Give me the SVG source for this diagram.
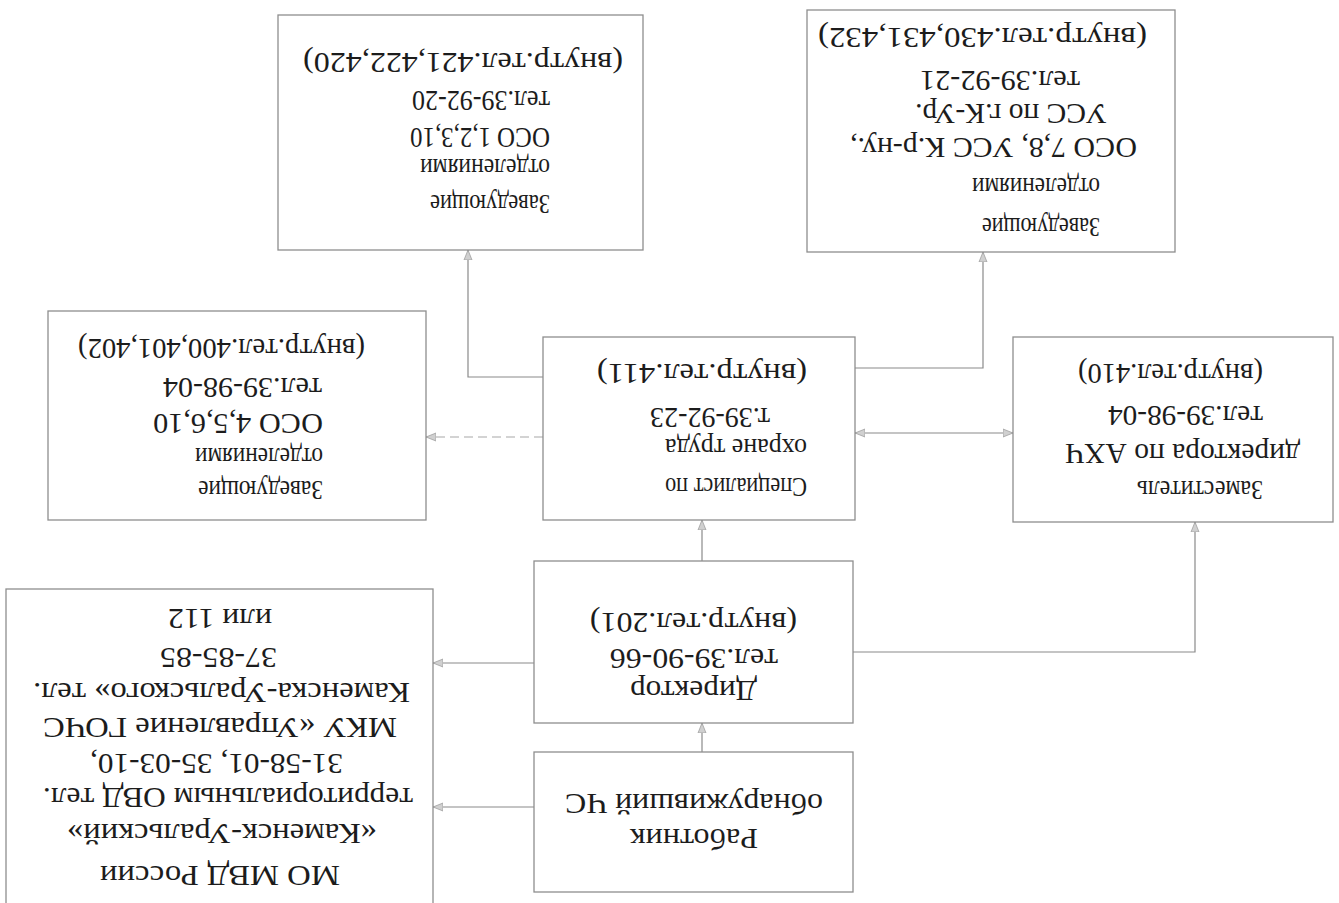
<svg xmlns="http://www.w3.org/2000/svg" width="1339" height="903" viewBox="0 0 1339 903">
<style>
.box{fill:#ffffff;stroke:#8e8e8e;stroke-width:1.3}
.t{font-family:"Liberation Serif","Times New Roman",serif;font-size:30px;fill:#1c1c1c}
.s{font-size:28px}
.c{fill:none;stroke:#8a8a8a;stroke-width:1.2}
.d{stroke-dasharray:9 5;stroke:#a8a8a8}
</style>
<defs>
<marker id="ah" viewBox="0 0 10 10" refX="10" refY="5" markerWidth="10" markerHeight="10" markerUnits="userSpaceOnUse" orient="auto-start-reverse">
<path d="M0,1 L10,5 L0,9 Z" fill="#d0d0d0" stroke="#a0a0a0" stroke-width="0.8"/>
</marker>
</defs>
<rect width="1339" height="903" fill="#ffffff"/>
<g transform="rotate(180 669.5 451.5)">
<g id="connectors">
<path class="c" d="M637,151 V180" marker-end="url(#ah)"/>
<path class="c" d="M637,342 V383" marker-end="url(#ah)"/>
<path class="c" d="M805,96 H906" marker-end="url(#ah)"/>
<path class="c" d="M805,240 H906" marker-end="url(#ah)"/>
<path class="c" d="M486,251 H144 V381" marker-end="url(#ah)"/>
<path class="c" d="M484,470 H326" marker-start="url(#ah)" marker-end="url(#ah)"/>
<path class="c d" d="M796,466 H913" marker-end="url(#ah)"/>
<path class="c" d="M796,526 H871 V653" marker-end="url(#ah)"/>
<path class="c" d="M484,535 H356 V651" marker-end="url(#ah)"/>
</g>
<g id="nodeA">
<rect class="box" x="696" y="653" width="365" height="235"/>
<text class="t s" x="789" y="708" textLength="120" lengthAdjust="spacingAndGlyphs">Заведующие</text>
<text class="t s" x="789" y="744" textLength="130" lengthAdjust="spacingAndGlyphs">отделениями</text>
<text class="t" x="789" y="775" textLength="140" lengthAdjust="spacingAndGlyphs">ОСО 1,2,3,10</text>
<text class="t" x="789" y="812" textLength="138" lengthAdjust="spacingAndGlyphs">тел.39-92-20</text>
<text class="t" x="716" y="850" textLength="320" lengthAdjust="spacingAndGlyphs">(внутр.тел.421,422,420)</text>
</g>
<g id="nodeB">
<rect class="box" x="164" y="651" width="368" height="242"/>
<text class="t s" x="239" y="685" textLength="118" lengthAdjust="spacingAndGlyphs">Заведующие</text>
<text class="t s" x="239" y="725" textLength="128" lengthAdjust="spacingAndGlyphs">отделениями</text>
<text class="t" x="202" y="765" textLength="287" lengthAdjust="spacingAndGlyphs">ОСО 7,8, УСС К.р-ну.,</text>
<text class="t" x="232" y="799" textLength="192" lengthAdjust="spacingAndGlyphs">УСС по г.К-Ур.</text>
<text class="t" x="259" y="832" textLength="160" lengthAdjust="spacingAndGlyphs">тел.39-92-21</text>
<text class="t" x="192" y="875" textLength="329" lengthAdjust="spacingAndGlyphs">(внутр.тел.430,431,432)</text>
</g>
<g id="nodeC">
<rect class="box" x="913" y="383" width="378" height="209"/>
<text class="t s" x="1016" y="422" textLength="125" lengthAdjust="spacingAndGlyphs">Заведующие</text>
<text class="t s" x="1016" y="455" textLength="128" lengthAdjust="spacingAndGlyphs">отделениями</text>
<text class="t" x="1016" y="489" textLength="170" lengthAdjust="spacingAndGlyphs">ОСО 4,5,6,10</text>
<text class="t" x="1017" y="525" textLength="159" lengthAdjust="spacingAndGlyphs">тел.39-98-04</text>
<text class="t" x="974" y="564" textLength="287" lengthAdjust="spacingAndGlyphs">(внутр.тел.400,401,402)</text>
</g>
<g id="nodeD">
<rect class="box" x="484" y="383" width="312" height="183"/>
<text class="t s" x="532" y="425" textLength="142" lengthAdjust="spacingAndGlyphs">Специалист по</text>
<text class="t s" x="532" y="464" textLength="142" lengthAdjust="spacingAndGlyphs">охране труда</text>
<text class="t" x="569" y="495" textLength="120" lengthAdjust="spacingAndGlyphs">т.39-92-23</text>
<text class="t" x="532" y="539" textLength="210" lengthAdjust="spacingAndGlyphs">(внутр.тел.411)</text>
</g>
<g id="nodeE">
<rect class="box" x="6" y="381" width="320" height="185"/>
<text class="t s" x="76" y="422" textLength="126" lengthAdjust="spacingAndGlyphs">Заместитель</text>
<text class="t" x="39" y="459" textLength="235" lengthAdjust="spacingAndGlyphs">директора по АХЧ</text>
<text class="t" x="76" y="497" textLength="155" lengthAdjust="spacingAndGlyphs">тел.39-98-04</text>
<text class="t" x="76" y="539" textLength="185" lengthAdjust="spacingAndGlyphs">(внутр.тел.410)</text>
</g>
<g id="nodeF">
<rect class="box" x="906" y="-2" width="427" height="316"/>
<text class="t" x="999" y="37" textLength="240" lengthAdjust="spacingAndGlyphs">МО МВД России</text>
<text class="t" x="962" y="79" textLength="310" lengthAdjust="spacingAndGlyphs">«Каменск-Уральский»</text>
<text class="t" x="926" y="115" textLength="370" lengthAdjust="spacingAndGlyphs">территориальным ОВД тел.</text>
<text class="t" x="996" y="149" textLength="253" lengthAdjust="spacingAndGlyphs">31-58-01, 35-03-10,</text>
<text class="t" x="942" y="185" textLength="354" lengthAdjust="spacingAndGlyphs">МКУ «Управление ГОЧС</text>
<text class="t" x="929" y="220" textLength="377" lengthAdjust="spacingAndGlyphs">Каменска-Уральского» тел.</text>
<text class="t" x="1062" y="255" textLength="117" lengthAdjust="spacingAndGlyphs">37-85-85</text>
<text class="t" x="1067" y="294" textLength="104" lengthAdjust="spacingAndGlyphs">или 112</text>
</g>
<g id="nodeG">
<rect class="box" x="486" y="180" width="319" height="162"/>
<text class="t" x="582" y="222" textLength="127" lengthAdjust="spacingAndGlyphs">Директор</text>
<text class="t" x="561" y="254" textLength="168" lengthAdjust="spacingAndGlyphs">тел.39-90-66</text>
<text class="t" x="542" y="290" textLength="207" lengthAdjust="spacingAndGlyphs">(внутр.тел.201)</text>
</g>
<g id="nodeH">
<rect class="box" x="486" y="11" width="319" height="140"/>
<text class="t" x="581" y="74" textLength="128" lengthAdjust="spacingAndGlyphs">Работник</text>
<text class="t" x="516" y="109" textLength="258" lengthAdjust="spacingAndGlyphs">обнаруживший ЧС</text>
</g>
</g>
</svg>
